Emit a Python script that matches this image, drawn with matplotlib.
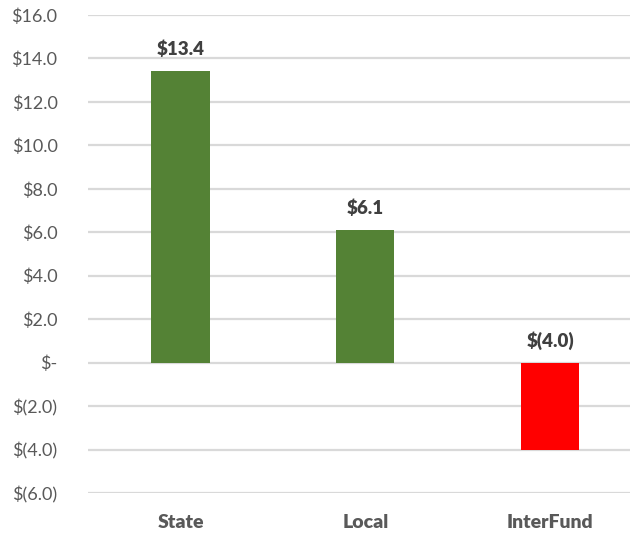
import matplotlib
matplotlib.use("Agg")
import matplotlib.pyplot as plt
from matplotlib.ticker import FuncFormatter

categories = ["State", "Local", "InterFund"]
values = [13.4, 6.1, -4.0]
bar_colors = ["#548235", "#548235", "#FF0000"]
y_ticks = [-6, -4, -2, 0, 2, 4, 6, 8, 10, 12, 14, 16]


def money(v, pos=None):
    if abs(v) < 1e-9:
        return "$-"
    if v < 0:
        return f"$({abs(v):.1f})"
    return f"${v:.1f}"


plt.rcParams["font.family"] = ["Lato", "DejaVu Sans"]

fig = plt.figure(figsize=(6.3, 5.33), dpi=100)
ax = fig.add_axes([88 / 630, 1 - 493 / 533, 1 - 88 / 630, (493 - 15) / 533])

x = list(range(len(categories)))
ax.bar(x, values, width=0.315, color=bar_colors, zorder=3)

ax.set_ylim(-6, 16)
ax.set_xlim(-0.5, 2.432)
ax.set_yticks(y_ticks)
ax.yaxis.set_major_formatter(FuncFormatter(money))
ax.grid(axis="y", color="#D9D9D9", linewidth=1.6, zorder=0)
ax.set_axisbelow(True)

for s in ax.spines.values():
    s.set_visible(False)

ax.tick_params(axis="y", length=0, pad=22, labelsize=13, labelcolor="#595959")
ax.tick_params(axis="x", length=0, pad=15, labelsize=14, labelcolor="#595959")
ax.set_xticks(x)
ax.set_xticklabels(categories, fontweight="heavy")

for xi, v in zip(x, values):
    ytxt = max(v, 0) + 0.6
    ax.text(xi, ytxt, money(v), ha="center", va="bottom", fontsize=13.5,
            fontweight="heavy", color="#404040")

fig.savefig("out.png", dpi=100)
